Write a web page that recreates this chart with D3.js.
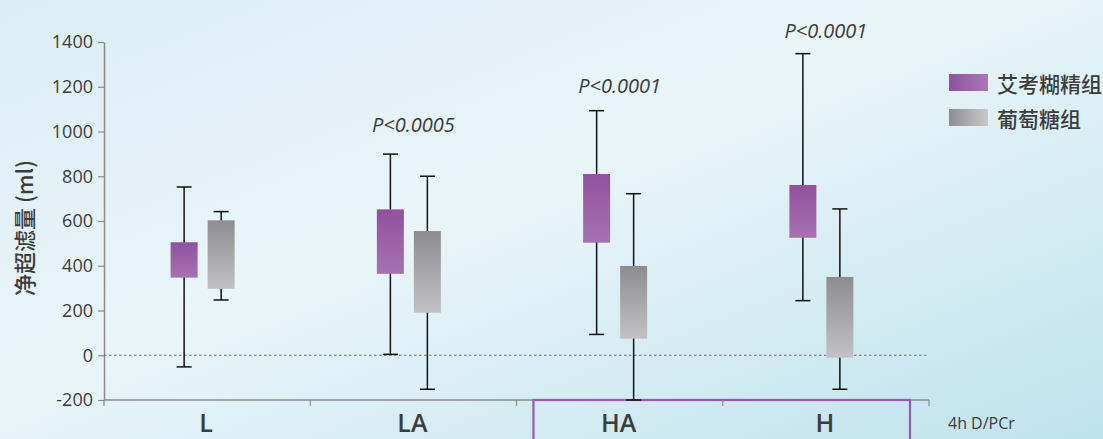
<!DOCTYPE html>
<html><head><meta charset="utf-8">
<script src="https://cdn.jsdelivr.net/npm/d3@7"></script>
<style>body{margin:0;padding:0;overflow:hidden}svg{display:block}</style>
</head><body>
<script>
const categories = ["L","LA","HA","H"];
const seriesNames = ["艾考糊精组","葡萄糖组"];
// [whiskerLow, boxLow, boxHigh, whiskerHigh]
const icodextrin = [[-52,347,505,752],[4,364,652,899],[93,503,810,1093],[244,525,761,1348]];
const glucose   = [[247,297,603,642],[-152,190,555,800],[-200,74,399,722],[-152,-11,350,654]];
const pLabels = ["","P<0.0005","P<0.0001","P<0.0001"];
const pValuesY = [null,1000,1170,1420];
const yTicks = [-200,0,200,400,600,800,1000,1200,1400];
const yTitle = "净超滤量 (ml)";
const xTitle = "4h D/PCr";

const W=1103,H=439;
const svg=d3.select("body").append("svg").attr("width",W).attr("height",H);
const defs=svg.append("defs");
const bg=defs.append("linearGradient").attr("id","bg").attr("x1","0").attr("y1","0").attr("x2","1").attr("y2","1");
bg.append("stop").attr("offset","0").attr("stop-color","#dcedf5");
bg.append("stop").attr("offset","0.45").attr("stop-color","#e9f5f9");
bg.append("stop").attr("offset","1").attr("stop-color","#bfe2ed");
svg.append("rect").attr("width",W).attr("height",H).attr("fill","url(#bg)");

function vgrad(id,c1,c2,horiz){const g=defs.append("linearGradient").attr("id",id).attr("x1","0").attr("y1","0").attr("x2",horiz?"1":"0").attr("y2",horiz?"0":"1");
g.append("stop").attr("offset","0").attr("stop-color",c1);g.append("stop").attr("offset","1").attr("stop-color",c2);}
vgrad("gp","#93509e","#a672b2",false);
vgrad("gg","#8d8d91","#c2c2c4",false);
vgrad("lp","#93509e","#a978b5",true);
vgrad("lg","#8d8d91","#cacacc",true);

const x=d3.scaleBand().domain(categories).range([104,929]).padding(0);
const y=d3.scaleLinear().domain([-200,1400]).range([400,42]);
const sub=d3.scalePoint().domain(seriesNames).range([-20,17]);
const bw=27, cap=15;
const txt="#3c3c3c";

// y axis
const ya=svg.append("g").attr("transform","translate(104,0)").call(d3.axisLeft(y).tickValues(yTicks).tickFormat(d=>String(d)).tickSize(6).tickPadding(5).tickSizeOuter(0));
ya.select(".domain").attr("stroke","#8a8a8a").attr("stroke-width",1.5);
ya.selectAll(".tick line").attr("stroke","#8a8a8a").attr("stroke-width",1.2);
ya.selectAll("text").attr("fill",txt).attr("font-family","Open Sans").attr("font-size",18);

// x axis
const boundaries=[104].concat(categories.map(c=>x(c)+x.bandwidth()));
svg.append("line").attr("x1",104).attr("x2",929).attr("y1",400).attr("y2",400).attr("stroke","#8a8a8a").attr("stroke-width",1.5);
svg.selectAll(".xt").data(boundaries).join("line").attr("x1",d=>d).attr("x2",d=>d).attr("y1",400).attr("y2",406).attr("stroke","#8a8a8a").attr("stroke-width",1.2);
svg.selectAll(".xl").data(categories).join("text").attr("x",d=>x(d)+x.bandwidth()/2-1).attr("y",432)
 .attr("text-anchor","middle").attr("fill",txt).attr("font-family","Open Sans").attr("font-weight",600).attr("font-size",25).text(d=>d);
svg.append("text").attr("x",948).attr("y",429).attr("fill",txt).attr("font-family","Open Sans").attr("font-size",16).text(xTitle);

// zero line
svg.append("line").attr("x1",104).attr("x2",928).attr("y1",y(0)).attr("y2",y(0)).attr("stroke","#6f6f6f").attr("stroke-width",1.2).attr("stroke-dasharray","2.5,2.5");

// highlight box
svg.append("rect").attr("x",x("HA")+17).attr("y",400).attr("width",x("H")+x.bandwidth()-19-(x("HA")+17)).attr("height",60)
 .attr("fill","none").attr("stroke","#a055ae").attr("stroke-width",2.2);

// boxes
const series=[{name:seriesNames[0],data:icodextrin,fill:"url(#gp)"},{name:seriesNames[1],data:glucose,fill:"url(#gg)"}];
series.forEach(s=>{
  const g=svg.append("g");
  s.data.forEach((d,i)=>{
    const cx=x(categories[i])+x.bandwidth()/2-3+sub(s.name);
    g.append("line").attr("x1",cx).attr("x2",cx).attr("y1",y(d[3])).attr("y2",y(d[0])).attr("stroke","#111").attr("stroke-width",1.5);
    [d[0],d[3]].forEach(v=>g.append("line").attr("x1",cx-cap/2).attr("x2",cx+cap/2).attr("y1",y(v)).attr("y2",y(v)).attr("stroke","#111").attr("stroke-width",1.5));
    g.append("rect").attr("x",cx-bw/2).attr("y",y(d[2])).attr("width",bw).attr("height",y(d[1])-y(d[2])).attr("fill",s.fill);
  });
});

// p labels
svg.selectAll(".pl").data(categories).join("text").attr("x",d=>x(d)+x.bandwidth()/2)
 .attr("y",(d,i)=>pValuesY[i]==null?0:y(pValuesY[i])).attr("text-anchor","middle").attr("fill",txt)
 .attr("font-family","Open Sans").attr("font-style","italic").attr("font-size",20).text((d,i)=>pLabels[i]);

// y title
svg.append("text").attr("transform","translate(33,228) rotate(-90)").attr("text-anchor","middle").attr("fill",txt)
 .attr("font-family","Noto Sans CJK SC").attr("font-weight",500).attr("font-size",22).text(yTitle);

// legend
const lg=svg.append("g");
seriesNames.forEach((n,i)=>{
  lg.append("rect").attr("x",949).attr("y",74+i*35).attr("width",39).attr("height",17).attr("fill",i===0?"url(#lp)":"url(#lg)");
  lg.append("text").attr("x",997).attr("y",82.5+i*35).attr("dominant-baseline","central").attr("fill",txt)
   .attr("font-family","Noto Sans CJK SC").attr("font-weight",500).attr("font-size",21).text(n);
});
</script>
</body></html>
